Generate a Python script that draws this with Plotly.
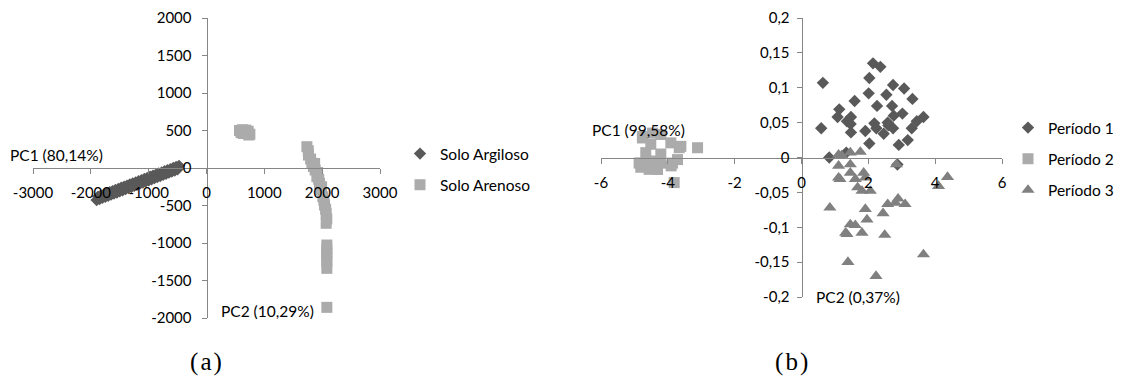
import plotly.graph_objects as go

# ---------------- (a) PCA scores by soil type ----------------
argiloso_x = [-1900, -1875, -1850, -1825, -1800, -1775, -1750, -1725, -1700, -1675,
              -1650, -1625, -1600, -1575, -1550, -1525, -1500, -1475, -1450, -1425,
              -1400, -1375, -1350, -1325, -1300, -1275, -1250, -1225, -1200, -1175,
              -1150, -1125, -1100, -1075, -1050, -1025, -1000, -975, -950, -925,
              -900, -875, -850, -825, -800, -775, -750, -725, -700, -675,
              -650, -625, -600, -575, -550, -525, -500, -475]
argiloso_y = [-428, -381, -414, -366, -399, -352, -384, -337, -370, -323,
              -355, -308, -341, -293, -326, -279, -311, -264, -297, -249,
              -282, -235, -267, -220, -253, -205, -238, -191, -223, -176,
              -209, -161, -194, -147, -179, -132, -165, -117, -150, -103,
              -135, -88, -121, -73, -106, -59, -91, -44, -77, -30,
              -62, -15, -48, 0, -33, 14, -18, 29]

arenoso_x = [570, 620, 680, 720, 600, 650, 700, 750, 730, 640, 590,
             1736, 1760, 1764, 1800, 1822, 1850, 1870, 1879, 1908, 1920, 1940, 1954,
             1977, 1990, 2012, 2030, 2040, 2060, 2069, 2080, 2069,
             2081, 2080, 2081, 2080, 2081, 2081, 2081]
arenoso_y = [500, 510, 505, 490, 470, 480, 470, 450, 440, 460, 495,
             284, 230, 173, 120, 63, 20, 60, -27, -116, -60, -150, -204,
             -293, -250, -383, -430, -493, -550, -604, -680, -737,
             -1027, -1080, -1138, -1190, -1249, -1338, -1858]

# ---------------- (b) PCA scores by period ----------------
p1_x = [0.64, 0.59, 0.83, 1.13, 1.08, 1.36, 1.48, 1.47, 1.48, 1.59, 1.91, 2.03,
        2.03, 2.01, 2.14, 2.36, 2.18, 2.24, 2.26, 2.46, 2.54, 2.58, 2.71, 2.74,
        2.74, 2.76, 2.91, 3.02, 3.07, 3.18, 3.32, 3.30, 3.45, 3.65, 1.34, 2.60, 2.87]
p1_y = [0.107, 0.042, 0.000, 0.069, 0.058, 0.052, 0.058, 0.048, 0.036, 0.081, 0.038, 0.020,
        0.114, 0.092, 0.135, 0.130, 0.049, 0.042, 0.074, 0.034, 0.090, 0.050, 0.074, 0.104,
        0.042, 0.060, 0.018, 0.063, 0.099, 0.025, 0.084, 0.042, 0.052, 0.058, 0.007, 0.046, -0.010]

p2_x = [-4.76, -4.21, -4.51, -3.91, -3.66, -4.66, -4.21, -4.86, -4.51, -4.21,
        -3.86, -4.31, -3.71, -4.81, -4.56, -3.11, -3.81, -4.46, -4.76, -4.81,
        -4.31, -3.90, -3.61]
p2_y = [0.028, 0.033, 0.019, 0.021, 0.014, 0.007, 0.005, -0.008, -0.005, -0.008,
        -0.008, -0.017, -0.003, -0.014, -0.017, 0.014, -0.036, 0.035, 0.030, -0.008,
        -0.017, -0.012, 0.016]

p3_x = [1.11, 1.46, 1.76, 1.20, 1.11, 1.46, 1.46, 1.11, 1.15, 1.61, 1.86, 1.91,
        1.68, 1.81, 2.06, 2.84, 2.89, 2.81, 3.10, 2.58, 2.44, 0.85, 1.91, 1.96,
        1.46, 1.61, 1.36, 1.32, 1.81, 2.49, 1.39, 2.23, 3.65, 4.10, 4.37]
p3_y = [0.004, 0.007, 0.008, 0.003, -0.012, -0.010, -0.022, -0.029, -0.031, -0.031, -0.022, -0.029,
        -0.043, -0.048, -0.048, -0.010, -0.059, -0.065, -0.067, -0.067, -0.080, -0.072, -0.074, -0.089,
        -0.096, -0.097, -0.110, -0.108, -0.108, -0.111, -0.150, -0.170, -0.139, -0.041, -0.028]

# Axis ticks
a_xticks = [-3000, -2000, -1000, 0, 1000, 2000, 3000]
a_xtext = ["-3000", "-2000", "-1000", "0", "1000", "2000", "3000"]
a_yticks = [-2000, -1500, -1000, -500, 0, 500, 1000, 1500, 2000]
a_ytext = ["-2000", "-1500", "-1000", "-500", "0", "500", "1000", "1500", "2000"]
b_xticks = [-6, -4, -2, 0, 2, 4, 6]
b_xtext = ["-6", "-4", "-2", "0", "2", "4", "6"]
b_yticks = [-0.2, -0.15, -0.1, -0.05, 0, 0.05, 0.1, 0.15, 0.2]
b_ytext = ["-0,2", "-0,15", "-0,1", "-0,05", "0", "0,05", "0,1", "0,15", "0,2"]

W, H = 1125, 390
FONT = "Lato"
FS = 15
DARK = "#595959"
LIGHT = "#ababab"
MID = "#808080"
AXIS = "#868686"


def px(v):
    return v / W


def py(v):
    return 1 - v / H


fig = go.Figure()

fig.add_trace(go.Scatter(x=argiloso_x, y=argiloso_y, mode="markers", name="Solo Argiloso",
                         marker=dict(symbol="diamond", size=9.5, color=DARK),
                         xaxis="x", yaxis="y", legend="legend", legendgroup="a1"))
fig.add_trace(go.Scatter(x=arenoso_x, y=arenoso_y, mode="markers", name="Solo Arenoso",
                         marker=dict(symbol="square", size=11, color=LIGHT),
                         xaxis="x", yaxis="y", legend="legend", legendgroup="a2"))

fig.add_trace(go.Scatter(x=p1_x, y=p1_y, mode="markers", name="Período 1",
                         marker=dict(symbol="diamond", size=9.5, color=DARK),
                         xaxis="x2", yaxis="y2", legend="legend2", legendgroup="b1"))
fig.add_trace(go.Scatter(x=p2_x, y=p2_y, mode="markers", name="Período 2",
                         marker=dict(symbol="square", size=11, color=LIGHT),
                         xaxis="x2", yaxis="y2", legend="legend2", legendgroup="b2"))
fig.add_trace(go.Scatter(x=p3_x, y=p3_y, mode="markers", name="Período 3",
                         marker=dict(symbol="triangle-up", size=11.5, color=MID),
                         xaxis="x2", yaxis="y2", legend="legend2", legendgroup="b3"))

ax_common = dict(showgrid=False, zeroline=False, showline=True, linecolor=AXIS, linewidth=1,
                 ticks="outside", ticklen=5, tickcolor=AXIS, automargin=False,
                 tickfont=dict(family=FONT, size=FS, color="#000000"), anchor="free",
                 fixedrange=True)
xa_common = dict(ax_common, ticklabelstandoff=6)

a_xdom = [px(33), px(380)]
a_ydom = [py(318), py(18)]
b_xdom = [px(601), px(1002)]
b_ydom = [py(297), py(18)]

fig.update_layout(
    width=W, height=H,
    margin=dict(l=0, r=0, t=0, b=0, autoexpand=False),
    paper_bgcolor="white", plot_bgcolor="white",
    font=dict(family=FONT, color="#000000"),
    xaxis=dict(xa_common, domain=a_xdom, range=[-3000, 3000],
               tickvals=a_xticks, ticktext=a_xtext, position=sum(a_ydom) / 2),
    yaxis=dict(ax_common, ticklabelstandoff=7, domain=a_ydom, range=[-2000, 2000],
               tickvals=a_yticks, ticktext=a_ytext, position=sum(a_xdom) / 2),
    xaxis2=dict(xa_common, domain=b_xdom, range=[-6, 6],
                tickvals=b_xticks, ticktext=b_xtext, position=sum(b_ydom) / 2),
    yaxis2=dict(ax_common, ticklabelstandoff=4, domain=b_ydom, range=[-0.2, 0.2],
                tickvals=b_yticks, ticktext=b_ytext, position=sum(b_xdom) / 2),
    legend=dict(x=px(400), y=py(137), xanchor="left", yanchor="top",
                font=dict(family=FONT, size=FS + 0.5, color="#000000"),
                tracegroupgap=8, bgcolor="rgba(0,0,0,0)"),
    legend2=dict(x=px(1008), y=py(111), xanchor="left", yanchor="top",
                 font=dict(family=FONT, size=FS + 0.5, color="#000000"),
                 tracegroupgap=8, bgcolor="rgba(0,0,0,0)"),
    showlegend=True,
)

ann_font = dict(family=FONT, size=FS + 0.5, color="#000000")
fig.add_annotation(text="PC1 (80,14%)", xref="paper", yref="paper", x=px(8), y=py(155),
                   xanchor="left", yanchor="middle", showarrow=False, font=ann_font)
fig.add_annotation(text="PC2 (10,29%)", xref="paper", yref="paper", x=px(219), y=py(311),
                   xanchor="left", yanchor="middle", showarrow=False, font=ann_font)
fig.add_annotation(text="PC1 (99,58%)", xref="paper", yref="paper", x=px(590), y=py(130),
                   xanchor="left", yanchor="middle", showarrow=False, font=ann_font)
fig.add_annotation(text="PC2 (0,37%)", xref="paper", yref="paper", x=px(814), y=py(297),
                   xanchor="left", yanchor="middle", showarrow=False, font=ann_font)

cap_font = dict(family="Liberation Serif", size=25, color="#000000")
fig.add_annotation(text="(\u200aa\u200a)", xref="paper", yref="paper", x=px(206), y=py(362),
                   xanchor="center", yanchor="middle", showarrow=False, font=cap_font)
fig.add_annotation(text="(\u200ab\u200a)", xref="paper", yref="paper", x=px(791), y=py(362),
                   xanchor="center", yanchor="middle", showarrow=False, font=cap_font)

fig.write_html("out.html")
